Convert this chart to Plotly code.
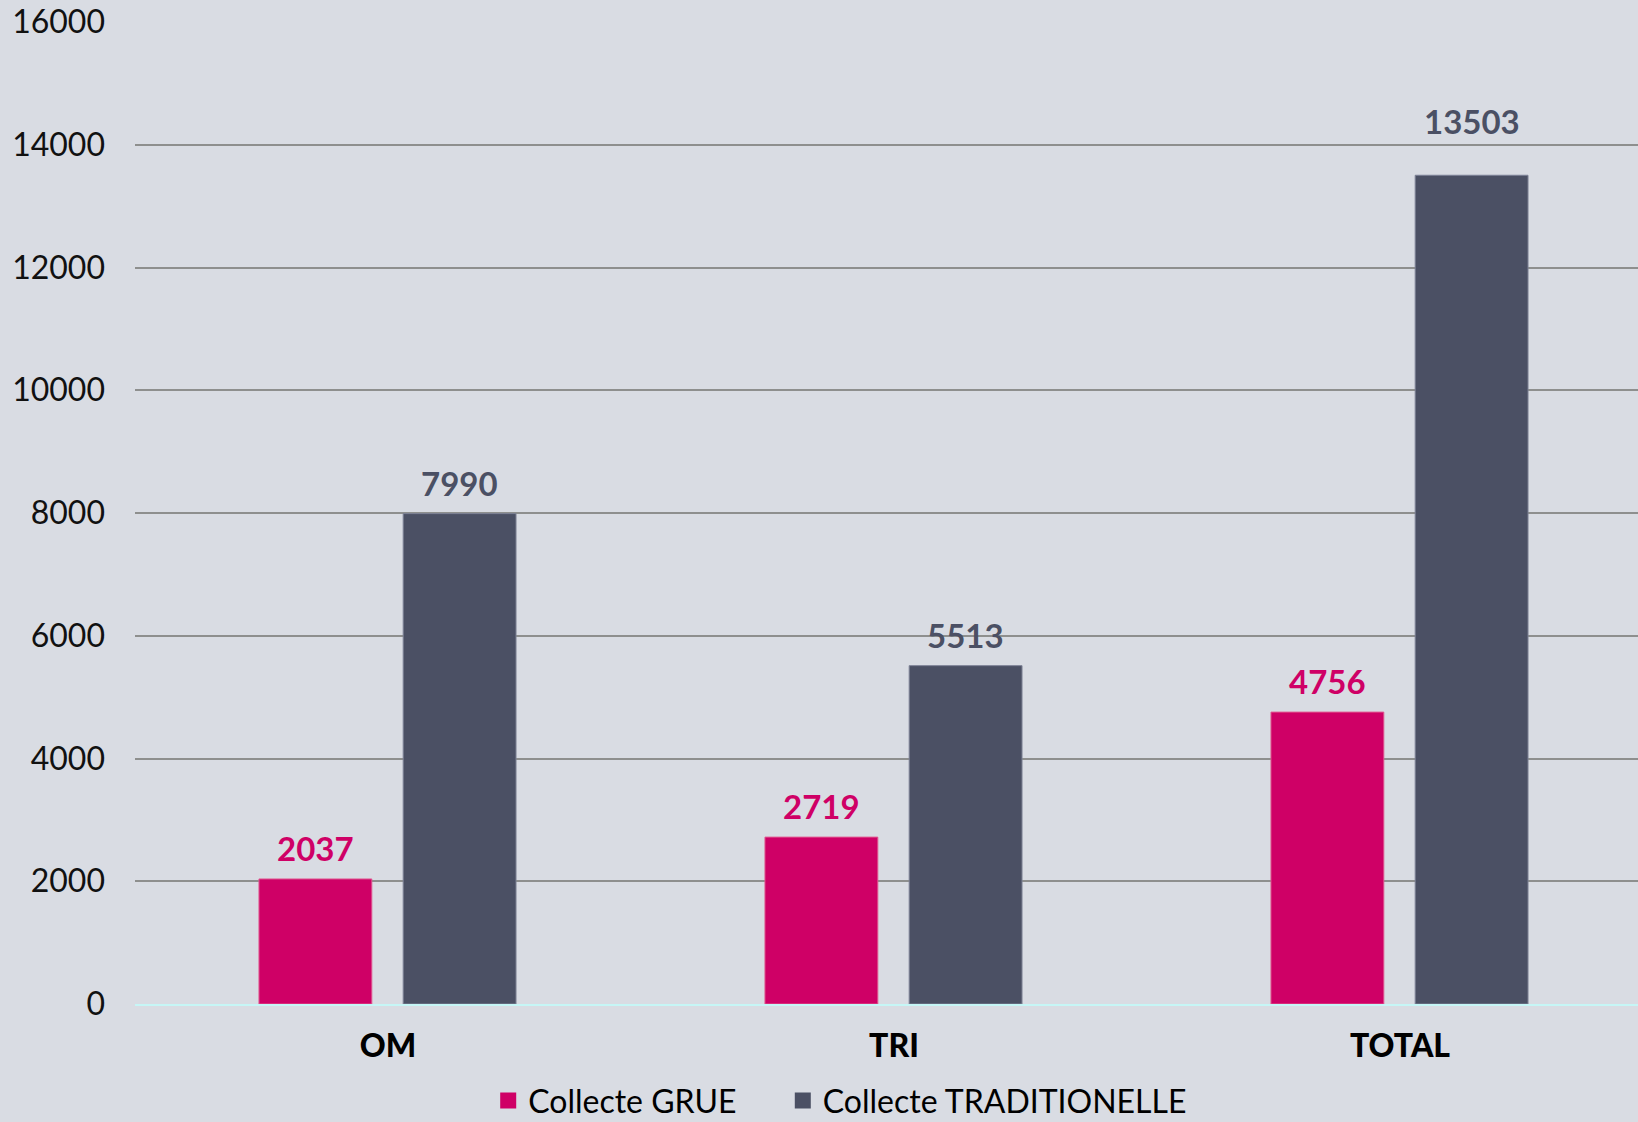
import plotly.graph_objects as go

# ─── Data ─────────────────────────────────────────────
categories = ["OM", "TRI", "TOTAL"]
grue = [2037, 2719, 4756]
traditionelle = [7990, 5513, 13503]
series_names = ["Collecte GRUE", "Collecte TRADITIONELLE"]
y_ticks = [0, 2000, 4000, 6000, 8000, 10000, 12000, 14000, 16000]

# ─── Style ────────────────────────────────────────────
BG = "#D9DCE3"
PINK = "#CF0066"
SLATE = "#4B5064"
GRID = "#8E8F8E"
BASE = "#C6F6F6"
FONT = "Lato, 'Open Sans', sans-serif"

W, H = 1638, 1122
M_L, M_R, M_T, M_B = 135, 0, 22, 118
BAR_W = 0.223
OFFSETS = [-0.255, 0.03]
Y_MAX = 16000
# the TOTAL/traditionelle label sits higher in the original, clear of the 14000 line
EXTRA_LIFT = {("TOTAL", 1): 23}
# one legend box per series so the spacing between them matches the original
LEGEND_X = [0.235, 0.431]

fig = go.Figure()
for k, (vals, color, edge) in enumerate([(grue, PINK, "#E0558F"),
                                         (traditionelle, SLATE, "#7E8396")]):
    fig.add_trace(go.Bar(
        x=categories, y=vals, name=series_names[k],
        marker=dict(color=color, line=dict(color=edge, width=1)),
        width=BAR_W, offset=OFFSETS[k], showlegend=False,
    ))
    # legend-only entry so the swatch can be a bigger square
    fig.add_trace(go.Scatter(
        x=[None], y=[None], mode="markers", name=series_names[k],
        marker=dict(symbol="square", size=16, color=color),
        legend="legend" if k == 0 else f"legend{k + 1}",
    ))
    for i, v in enumerate(vals):
        fig.add_annotation(
            x=i + OFFSETS[k] + BAR_W / 2, y=v, xref="x", yref="y",
            text=f"<b>{v}</b>", showarrow=False,
            yanchor="middle", yshift=31 + EXTRA_LIFT.get((categories[i], k), 0),
            font=dict(family=FONT, size=33, color=color, weight=900),
        )

fig.update_xaxes(
    range=[-0.5, -0.5 + (W - M_L) / 506],
    showgrid=False, zeroline=False,
    showline=True, linecolor=BASE, linewidth=2,
    tickfont=dict(family=FONT, size=32, color="#000000", weight=900),
    ticklabelstandoff=13, automargin=False,
)
fig.update_yaxes(
    range=[0, Y_MAX], tickvals=y_ticks, tickformat="d",
    showgrid=True, gridcolor=GRID, gridwidth=1.5,
    zeroline=False, showline=False,
    tickfont=dict(family=FONT, size=32, color="#111111"),
    ticklabelstandoff=29, automargin=False,
)

legend_style = dict(
    orientation="h", xanchor="left",
    xref="paper", yref="container",
    y=0.019, yanchor="middle",
    font=dict(family=FONT, size=32, color="#000000"),
    bgcolor="rgba(0,0,0,0)", itemsizing="trace",
)

fig.update_layout(
    width=W, height=H,
    paper_bgcolor=BG, plot_bgcolor=BG,
    margin=dict(l=M_L, r=M_R, t=M_T, b=M_B),
    barmode="group",
    showlegend=True,
    legend=dict(x=LEGEND_X[0], **legend_style),
    legend2=dict(x=LEGEND_X[1], **legend_style),
)

fig.write_html(
    "out.html",
    config={"displayModeBar": False},
    post_script="document.body.style.margin='0';",
)
